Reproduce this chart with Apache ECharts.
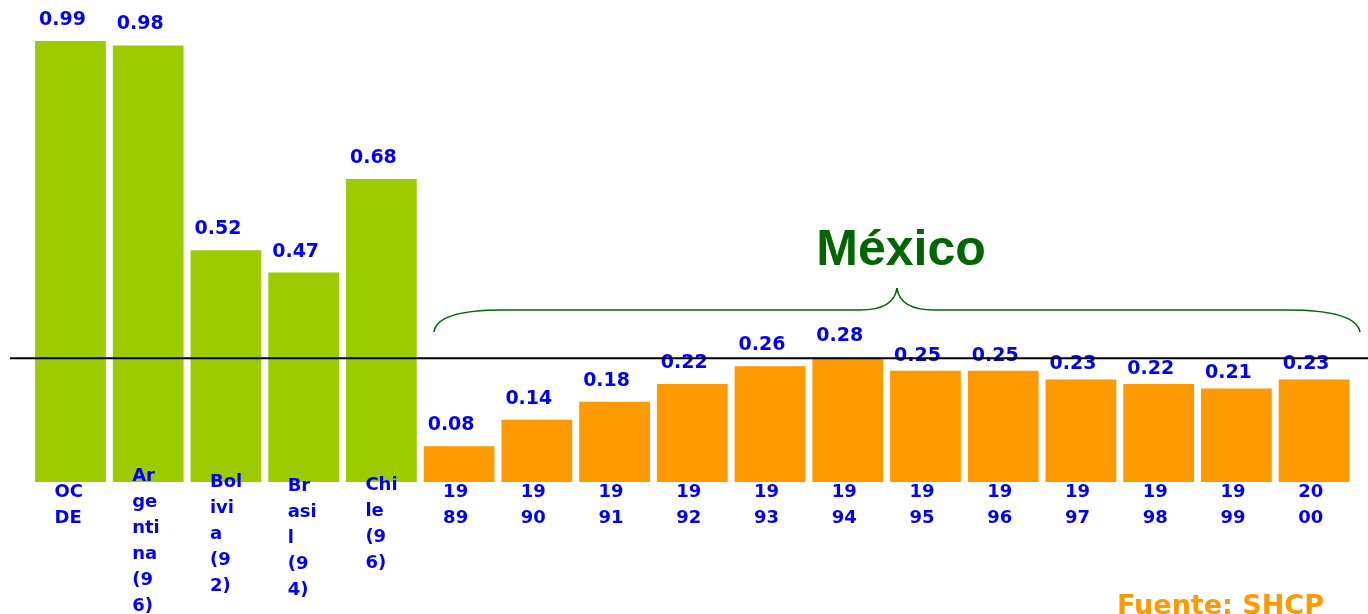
<!DOCTYPE html>
<html>
<head>
<meta charset="utf-8">
<script src="https://cdn.jsdelivr.net/npm/echarts@6/dist/echarts.min.js"></script>
<style>
html,body{margin:0;padding:0;background:#fff;}
#chart{width:1368px;height:614px;}
</style>
</head>
<body>
<div id="chart"></div>
<script>
const categories = ['OC\nDE', 'Ar\nge\nnti\nna\n(9\n6)', 'Bol\nivi\na\n(9\n2)', 'Br\nasi\nl\n(9\n4)', 'Chi\nle\n(9\n6)',
  '19\n89', '19\n90', '19\n91', '19\n92', '19\n93', '19\n94', '19\n95', '19\n96', '19\n97', '19\n98', '19\n99', '20\n00'];
const countryValues = [0.99, 0.98, 0.52, 0.47, 0.68];
const mexicoValues = [0.08, 0.14, 0.18, 0.22, 0.26, 0.28, 0.25, 0.25, 0.23, 0.22, 0.21, 0.23];
const referenceLine = 0.278;
const groupTitle = 'México';
const sourceText = 'Fuente: SHCP';

const nC = countryValues.length;
const greenData = categories.map((c, i) => i < nC ? countryValues[i] : '-');
const orangeData = categories.map((c, i) => i >= nC ? mexicoValues[i - nC] : '-');

// label vertical tweaks for a few wrapped category labels
const labelShift = {1: -16, 2: -10, 3: -6, 4: -7};
const catData = categories.map((c, i) => ({
  value: c,
  textStyle: { align: 'left', padding: [labelShift[i] || 0, 0, 0, -16] }
}));

function labelDist(i) { return i >= nC + 6 ? 5.5 : 11.5; }

const blue = '#0000ff';
const chart = echarts.init(document.getElementById('chart'));
const valueLabel = () => ({
  show: true, position: 'top', offset: [-8, 0],
  color: blue, fontFamily: 'DejaVu Sans', fontWeight: 'bold', fontSize: 19,
  formatter: (p) => p.value.toFixed(2)
});

chart.setOption({
  animation: false,
  grid: { left: 31.6, right: 15, top: 36.5, bottom: 132, containLabel: false, outerBoundsMode: 'none' },
  xAxis: {
    type: 'category', data: catData, z: 10,
    axisLine: { show: false }, axisTick: { show: false },
    axisLabel: {
      interval: 0, margin: -3, align: 'left', verticalAlign: 'top',
      color: blue, fontFamily: 'DejaVu Sans', fontWeight: 'bold', fontSize: 18, lineHeight: 26
    }
  },
  yAxis: { type: 'value', min: 0, max: 1, show: false, splitLine: { show: false } },
  series: [
    {
      type: 'bar', stack: 's', barCategoryGap: '9%',
      itemStyle: { color: '#9ccc00' },
      data: greenData.map((v, i) => v === '-' ? '-' : { value: v, label: Object.assign(valueLabel(), { distance: labelDist(i) }) })
    },
    {
      type: 'bar', stack: 's', barCategoryGap: '9%',
      itemStyle: { color: '#ff9900' },
      data: orangeData.map((v, i) => v === '-' ? '-' : { value: v, label: Object.assign(valueLabel(), { distance: labelDist(i) }) })
    }
  ]
});

const lineY = chart.convertToPixel({ yAxisIndex: 0 }, referenceLine);
const braceColor = '#006600';
const braceStyle = { stroke: braceColor, lineWidth: 1.6, fill: null };
chart.setOption({
  graphic: [
    { type: 'line', z: 100, shape: { x1: 10, y1: lineY, x2: 1368, y2: lineY }, style: { stroke: '#000', lineWidth: 2 } },
    { type: 'bezierCurve', z: 100, shape: { x1: 434, y1: 332, cpx1: 436, cpy1: 316, cpx2: 462, cpy2: 310, x2: 503, y2: 310 }, style: braceStyle },
    { type: 'line', z: 100, shape: { x1: 503, y1: 310, x2: 860, y2: 310 }, style: braceStyle },
    { type: 'bezierCurve', z: 100, shape: { x1: 860, y1: 310, cpx1: 882, cpy1: 310, cpx2: 895, cpy2: 303, x2: 897, y2: 288 }, style: braceStyle },
    { type: 'bezierCurve', z: 100, shape: { x1: 897, y1: 288, cpx1: 899, cpy1: 303, cpx2: 912, cpy2: 310, x2: 934, y2: 310 }, style: braceStyle },
    { type: 'line', z: 100, shape: { x1: 934, y1: 310, x2: 1287, y2: 310 }, style: braceStyle },
    { type: 'bezierCurve', z: 100, shape: { x1: 1287, y1: 310, cpx1: 1330, cpy1: 310, cpx2: 1357, cpy2: 316, x2: 1360, y2: 332 }, style: braceStyle },
    { type: 'text', z: 100, x: 901, y: 251, style: {
        text: groupTitle, fill: braceColor, font: 'bold 50px "Liberation Sans", Arial, sans-serif',
        textAlign: 'center', textVerticalAlign: 'middle' } },
    { type: 'text', z: 100, x: 1117, y: 607, style: {
        text: sourceText, fill: '#ff9900', font: 'bold 27px "DejaVu Sans", sans-serif',
        textAlign: 'left', textVerticalAlign: 'middle' } }
  ]
});
</script>
</body>
</html>
